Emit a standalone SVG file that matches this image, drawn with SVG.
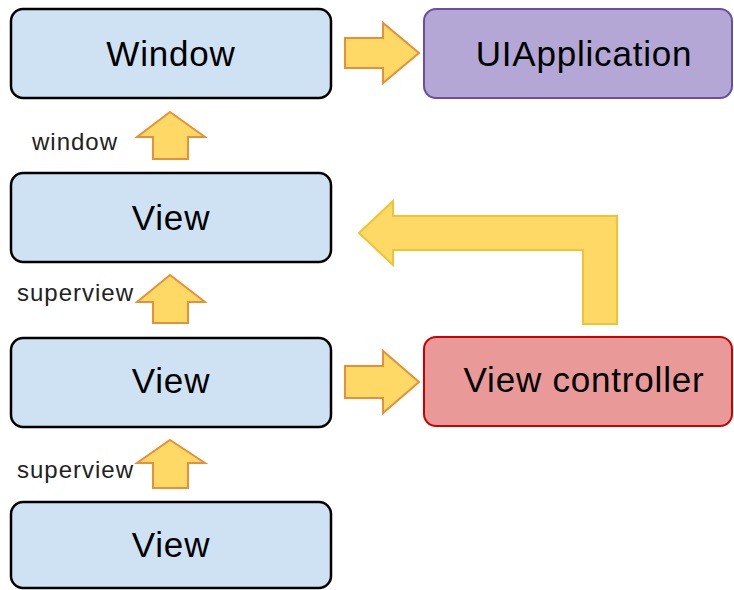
<svg xmlns="http://www.w3.org/2000/svg" width="734" height="590" viewBox="0 0 734 590">
<style>
.view rect{fill:#cfe2f3;stroke:#000;stroke-width:2.5}
.app rect{fill:#b4a7d6;stroke:#674ea7;stroke-width:2}
.vc rect{fill:#ea9999;stroke:#cc0000;stroke-width:2}
.t{font-family:"Liberation Sans",Arial,sans-serif;font-size:35px;letter-spacing:0.8px;fill:#000;text-anchor:middle}
.lbl{font-family:"Liberation Sans",Arial,sans-serif;font-size:24px;letter-spacing:1px;fill:#222}
.arr{fill:#ffd966;stroke:#e69138;stroke-width:2;stroke-linejoin:miter}
.arr2{fill:#ffd966;stroke:#f1c232;stroke-width:2}
</style>
<rect width="734" height="590" fill="#fff"/>
<g id="connectors">
<polygon class="arr" points="170,112 205,137 188,137 188,159 153,159 153,137 137,137"/>
<polygon class="arr" points="170,275 205,302 188,302 188,323 153,323 153,302 137,302"/>
<polygon class="arr" points="170,440 205,463 188,463 188,488 153,488 153,463 137,463"/>
<polygon class="arr" points="345,38 383,38 383,23 419,53 383,83 383,68 345,68"/>
<polygon class="arr" points="345,366 383,366 383,351 419,382 383,413 383,398 345,398"/>
<polygon class="arr2" points="359,233 393,201 393,216 617,216 617,324 583,324 583,250 393,250 393,265"/>
<text class="lbl" x="32" y="150">window</text>
<text class="lbl" x="17" y="301">superview</text>
<text class="lbl" x="17" y="478">superview</text>
</g>
<g id="window" class="view">
<rect x="11" y="9" width="320" height="89" rx="12"/>
<text class="t" x="171" y="66">Window</text>
</g>
<g id="uiapplication" class="app">
<rect x="424" y="9" width="308" height="89" rx="12"/>
<text class="t" x="584" y="66">UIApplication</text>
</g>
<g id="view1" class="view">
<rect x="11" y="173" width="320" height="89" rx="12"/>
<text class="t" x="171" y="230">View</text>
</g>
<g id="view2" class="view">
<rect x="11" y="338" width="320" height="89" rx="12"/>
<text class="t" x="171" y="393">View</text>
</g>
<g id="viewcontroller" class="vc">
<rect x="424" y="337" width="308" height="89" rx="12"/>
<text class="t" x="584" y="392">View controller</text>
</g>
<g id="view3" class="view">
<rect x="11" y="502" width="320" height="86" rx="12"/>
<text class="t" x="171" y="557">View</text>
</g>
</svg>
